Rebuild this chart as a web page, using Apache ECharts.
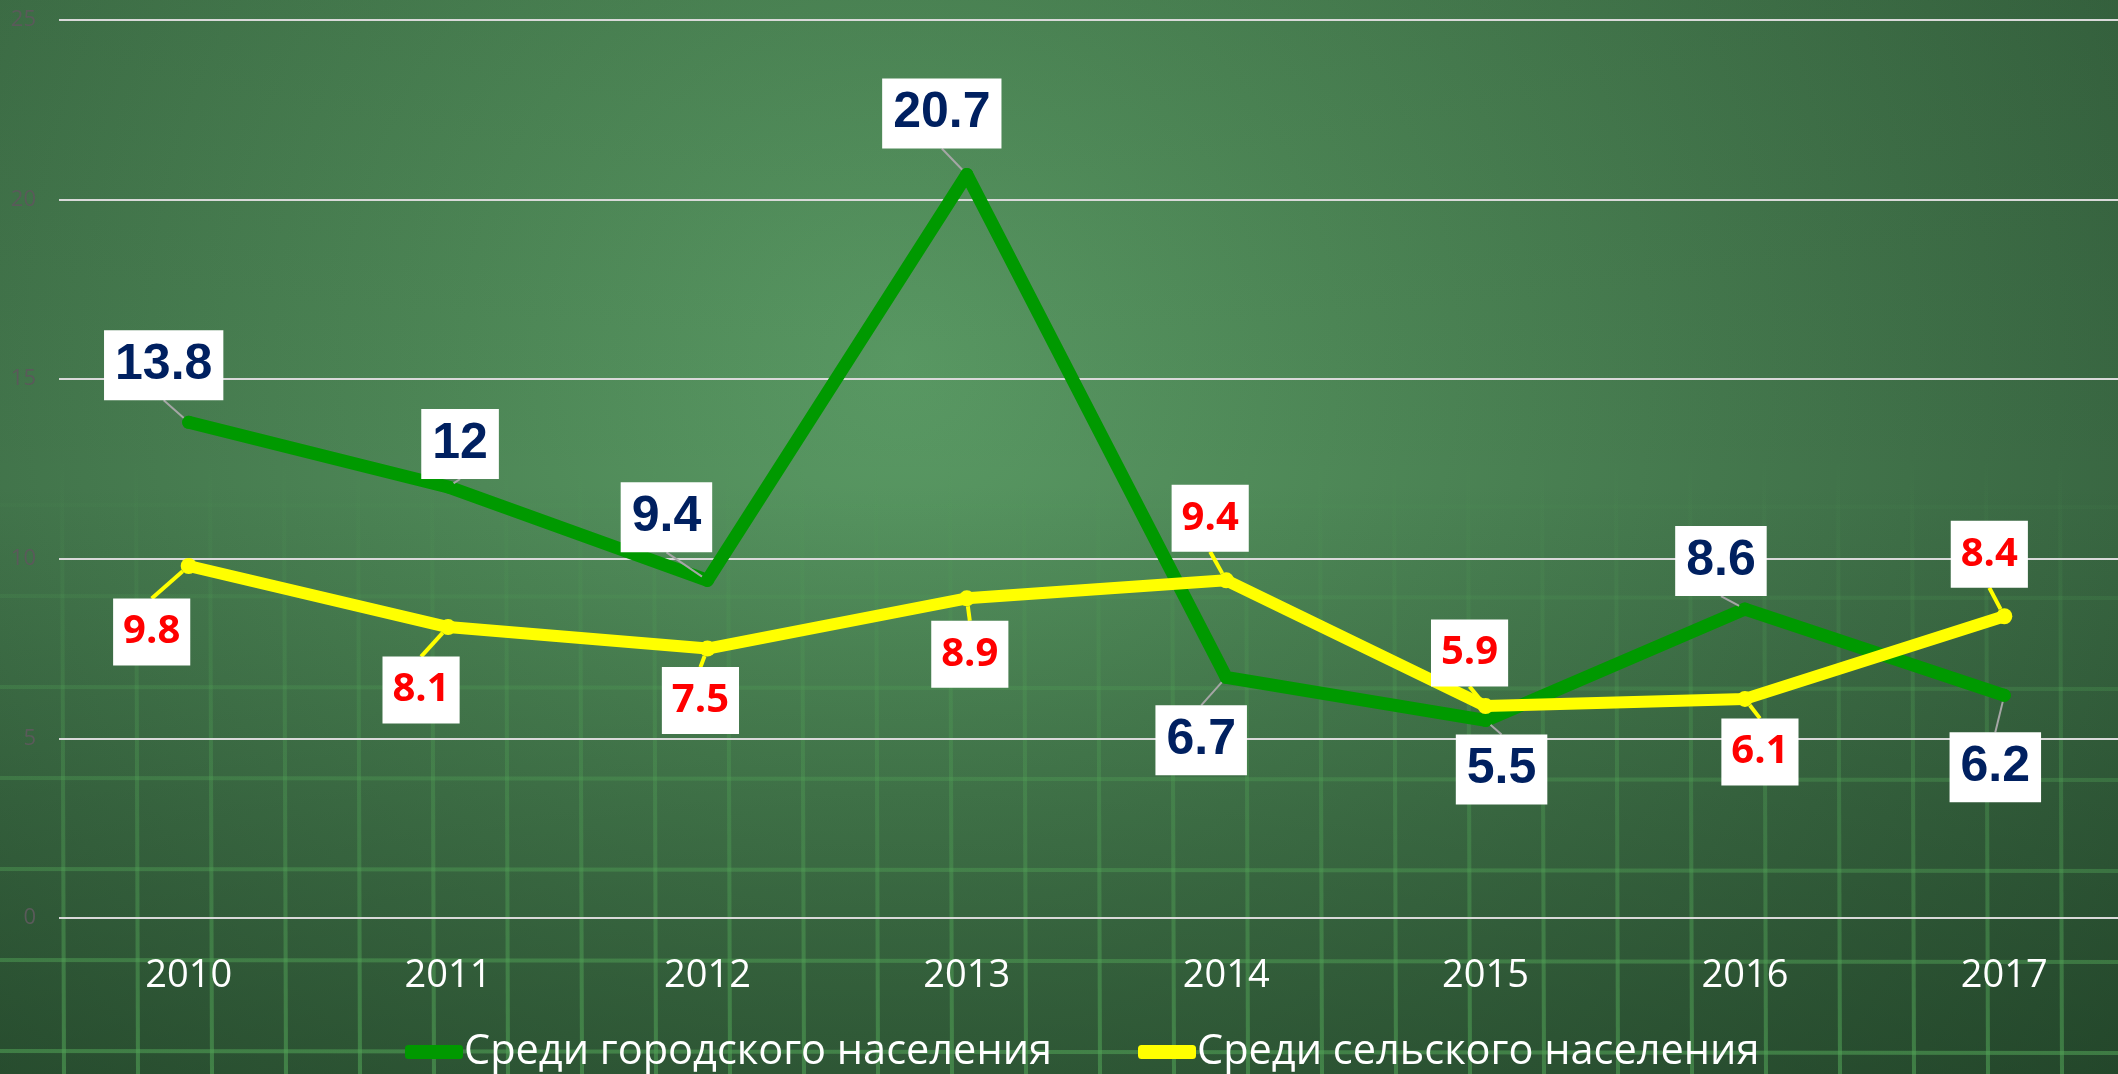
<!DOCTYPE html>
<html>
<head>
<meta charset="utf-8">
<script src="https://cdn.jsdelivr.net/npm/echarts@6/dist/echarts.min.js"></script>
<style>
    html, body { margin: 0; padding: 0; width: 2118px; height: 1074px; overflow: hidden; }
    #bg { position: absolute; left: 0; top: 0; }
    /* wider than the window: the plot runs past the right edge */
    #chart { position: absolute; left: 0; top: 0; width: 2150px; height: 1074px; }
</style>
</head>
<body>
<canvas id="bg" width="2118" height="1074"></canvas>
<div id="chart"></div>
<script>
(function(){

    var years = ['2010', '2011', '2012', '2013', '2014', '2015', '2016', '2017'],

        urbanName = 'Среди городского населения',
        ruralName = 'Среди сельского населения',

        urban = [13.8, 12, 9.4, 20.7, 6.7, 5.5, 8.6, 6.2],
        rural = [9.8, 8.1, 7.5, 8.9, 9.4, 5.9, 6.1, 8.4],

        // label box offsets from the point, px
        urbanLabelShift = [[-25, -57], [12, -43], [-41, -63], [-25, -61], [-25, 63], [16, 49], [-24, -48], [-9, 72]],
        ruralLabelShift = [[-37, 66], [-27, 63], [-7, 52], [3, 56], [-16, -62], [-16, -53], [15, 53], [-15, -62]]

    // chalkboard background
    var bg = document.getElementById('bg'),
        ctx = bg.getContext('2d'),
        W = bg.width, H = bg.height

    var rg = ctx.createRadialGradient(900, 360, 0, 900, 360, 1450)
    rg.addColorStop(0, '#5a9a64')
    rg.addColorStop(0.3, '#4e8857')
    rg.addColorStop(0.65, '#41734a')
    rg.addColorStop(1, '#335e3c')
    ctx.fillStyle = rg
    ctx.fillRect(0, 0, W, H)

    var shade = ctx.createLinearGradient(0, 0, 0, H)
    shade.addColorStop(0, 'rgba(20,50,25,0.1)')
    shade.addColorStop(0.45, 'rgba(20,50,25,0)')
    shade.addColorStop(0.75, 'rgba(15,40,20,0.25)')
    shade.addColorStop(1, 'rgba(15,40,20,0.45)')
    ctx.fillStyle = shade
    ctx.fillRect(0, 0, W, H)

    var gridFade = ctx.createLinearGradient(0, 460, 0, H)
    gridFade.addColorStop(0, 'rgba(80,160,85,0)')
    gridFade.addColorStop(0.4, 'rgba(80,160,85,0.3)')
    gridFade.addColorStop(1, 'rgba(80,160,85,0.6)')
    ctx.strokeStyle = gridFade
    ctx.lineWidth = 4
    for (var x = 62; x < W; x += 74) {
        ctx.beginPath(); ctx.moveTo(x, 460); ctx.lineTo(x + 2, H); ctx.stroke()
    }
    for (var y = 505; y < H; y += 91) {
        ctx.beginPath(); ctx.moveTo(0, y); ctx.lineTo(W, y + 2); ctx.stroke()
    }

    var chart = echarts.init(document.getElementById('chart'))

    function shiftLayout(shifts){
        return function(params){
            var s = shifts[params.dataIndex]
            return { dx: s[0], dy: s[1] }
        }
    }

    var option = {
        backgroundColor: 'transparent',
        animation: false,
        grid: {
            left: 59,
            right: 16,
            top: 20,
            bottom: 156
        },
        legend: {
            left: 400,
            top: 1026,
            itemWidth: 58,
            itemHeight: 14,
            itemGap: 86,
            textStyle: {
                fontFamily: 'Open Sans',
                fontSize: 41.5,
                color: '#ffffff',
                padding: [0, 0, 0, -4]
            },
            data: [
                { name: urbanName, icon: 'roundRect', itemStyle: { color: '#009900' } },
                { name: ruralName, icon: 'roundRect', itemStyle: { color: '#ffff00' } }
            ]
        },
        xAxis: {
            type: 'category',
            data: years,
            axisLine: { show: false },
            axisTick: { show: false },
            axisLabel: {
                color: '#ffffff',
                fontFamily: 'Open Sans',
                fontSize: 38,
                margin: 39
            }
        },
        yAxis: {
            type: 'value',
            min: 0,
            max: 25,
            interval: 5,
            axisLine: { show: false },
            axisTick: { show: false },
            axisLabel: {
                color: '#5a5a5a',
                fontFamily: 'Open Sans',
                fontSize: 22,
                margin: 23
            },
            splitLine: {
                lineStyle: { color: '#d9d9d9', width: 2 }
            }
        },
        series: [
            {
                name: urbanName,
                type: 'line',
                data: urban,
                symbol: 'circle',
                symbolSize: 13,
                lineStyle: { color: '#009900', width: 13, cap: 'round', join: 'round' },
                itemStyle: { color: '#009900' },
                label: {
                    show: true,
                    position: 'inside',
                    fontFamily: 'Liberation Sans',
                    fontWeight: 'bold',
                    fontSize: 50,
                    lineHeight: 52,
                    color: '#002060',
                    backgroundColor: '#ffffff',
                    padding: [9, 11, 9, 11]
                },
                labelLine: {
                    show: true,
                    lineStyle: { color: '#a6a6a6', width: 2 }
                },
                labelLayout: shiftLayout(urbanLabelShift)
            },
            {
                name: ruralName,
                type: 'line',
                data: rural,
                symbol: 'circle',
                symbolSize: 16,
                lineStyle: { color: '#ffff00', width: 12, cap: 'round', join: 'round' },
                itemStyle: { color: '#ffff00' },
                label: {
                    show: true,
                    position: 'inside',
                    fontFamily: 'Open Sans',
                    fontWeight: 'bold',
                    fontSize: 40,
                    lineHeight: 42,
                    color: '#ff0000',
                    backgroundColor: '#ffffff',
                    padding: [13, 10, 12, 10]
                },
                labelLine: {
                    show: true,
                    lineStyle: { color: '#ffff00', width: 4 }
                },
                labelLayout: shiftLayout(ruralLabelShift)
            }
        ]
    }

    chart.setOption(option)

})()
</script>
</body>
</html>
